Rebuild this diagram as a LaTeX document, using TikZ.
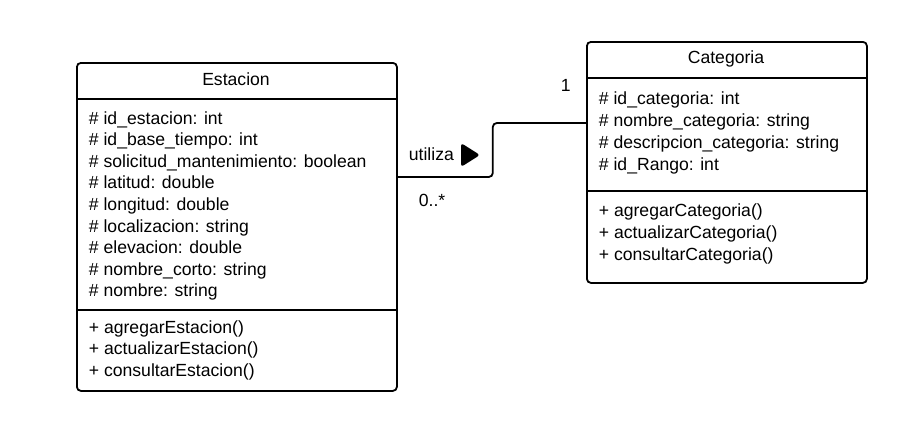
\documentclass[tikz,border=0pt]{standalone}
\usepackage{fontspec}
\setmainfont{Liberation Sans}
\usetikzlibrary{calc}

\tikzset{
  classbox/.style={draw, rounded corners=4pt, inner sep=0pt, anchor=north west},
  member/.style={inner sep=0pt, anchor=base west, font=\fontsize{17.6}{21.6}\selectfont},
  assoc/.style={draw, rounded corners=4pt}
}

\begin{document}
\begin{tikzpicture}[x=1pt,y=-1pt,line width=1.8pt]
  \useasboundingbox (0,0) rectangle (915,434);
  \node[classbox, minimum width=320pt, minimum height=328pt] (estacion) at (76,62) {};
  \node[classbox, minimum width=280pt, minimum height=241pt] (categoria) at (586,41) {};
  \draw (estacion.north west) ++(0,37) -- ++(320,0);
  \draw (estacion.north west) ++(0,248) -- ++(320,0);
  \draw (categoria.north west) ++(0,37) -- ++(280,0);
  \draw (categoria.north west) ++(0,150) -- ++(280,0);

  \node[member, anchor=base] (estacion-name) at (236,85) {Estacion};
  \foreach \txt [count=\i] in {\# id\_estacion: int, \# id\_base\_tiempo: int,
      \# solicitud\_mantenimiento: boolean, \# latitud: double, \# longitud: double,
      \# localizacion: string, \# elevacion: double, \# nombre\_corto: string,
      \# nombre: string}
    \node[member] (estacion-attr-\i) at (88,{124+21.6*(\i-1)}) {\txt};
  \foreach \txt [count=\i] in {+ agregarEstacion(), + actualizarEstacion(),
      + consultarEstacion()}
    \node[member] (estacion-op-\i) at (88,{333+21.6*(\i-1)}) {\txt};

  \node[member, anchor=base] (categoria-name) at (726,63.3) {Categoria};
  \foreach \txt [count=\i] in {\# id\_categoria: int, \# nombre\_categoria: string,
      \# descripcion\_categoria: string, \# id\_Rango: int}
    \node[member] (categoria-attr-\i) at (598,{104.3+21.9*(\i-1)}) {\txt};
  \foreach \txt [count=\i] in {+ agregarCategoria(), + actualizarCategoria(),
      + consultarCategoria()}
    \node[member] (categoria-op-\i) at (598,{216+22*(\i-1)}) {\txt};

  \path[assoc] ($(estacion.north east)+(0,115)$) -- ++(95,0)
    |- ($(categoria.north west)+(0,82)$);
  \node[member] (utiliza) at (408,160.7) {utiliza};
  \fill[rounded corners=3pt] (461,143) -- (480,155) -- (461,167) -- cycle;
  \node[member] (mult-many) at (418,206) {0..*};
  \node[member] (mult-one) at (560,91.7) {1};
\end{tikzpicture}
\end{document}
